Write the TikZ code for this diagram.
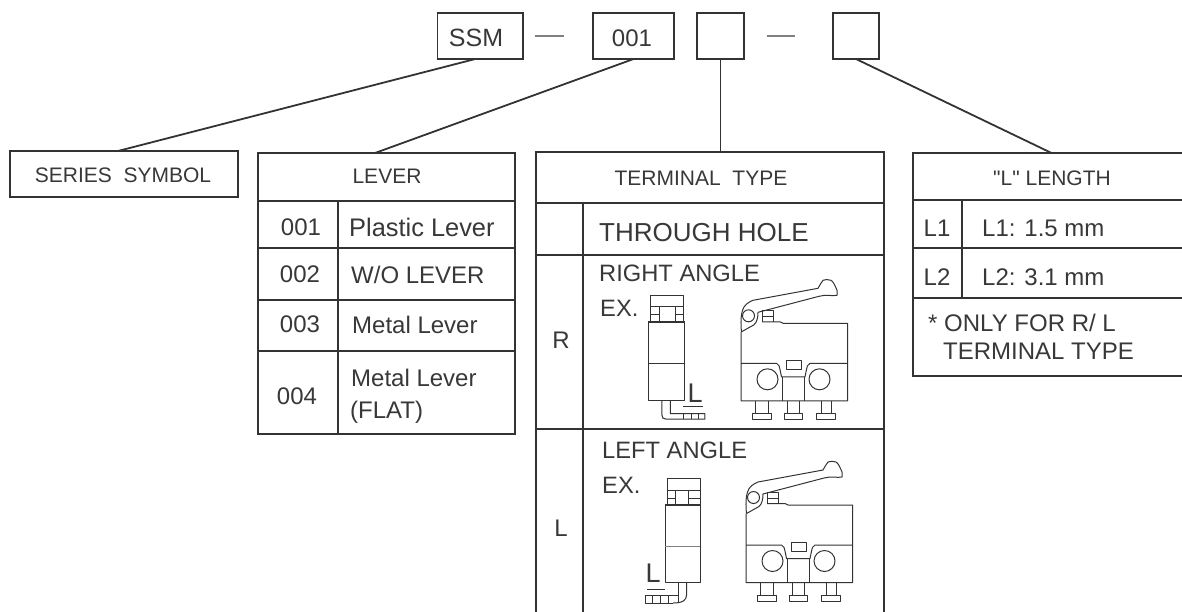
\documentclass[tikz,border=0pt]{standalone}
\usepackage{fontspec}
\setmainfont{Liberation Sans}
\newfontfamily\rawfont{Liberation Sans}
\definecolor{ink}{HTML}{333333}
\definecolor{inktext}{HTML}{383838}
\tikzset{
  boxcell/.style={draw=ink,line width=1.8pt,inner sep=0pt,outer sep=0pt,anchor=north west,minimum width=#1},
  lab/.style={font=\fontsize{#1}{#1}\selectfont,text=inktext,inner sep=0pt,text height=#1*0.716pt,text depth=0pt},
  labw/.style={lab=#1,anchor=west},
  link/.style={draw=ink,line width=1.8pt},
  dashmark/.style={draw=gray,line width=2pt},
  thin part/.style={draw=ink,line width=1pt,line join=round},
  side right/.pic={
    \draw[thin part] (0,0) rectangle (36,79);
    \draw[thin part] (0,41.5) -- (36,41.5);
    \draw[thin part] (2.5,-26.5) rectangle (35,0);
    \draw[thin part] (2.5,-15) -- (35,-15);
    \draw[thin part] (11,-15) -- (11,0) (27,-15) -- (27,0);
    \draw[thin part] (2.5,-7) -- (11,-7) (27,-7) -- (35,-7);
    \draw[line width=2pt,draw=ink] (0,0) -- (36,0);
    \draw[thin part] (13.5,79) -- (13.5,93) .. controls (13.5,96) and (15,97.5) .. (18,97.5) -- (56.5,97.5) -- (56.5,92) -- (22,92) -- (22,79);
    \draw[thin part] (35,85) -- (55,85);
    \draw[thin part] (35,92) -- (35,97.5) (43,92) -- (43,97.5) (50,92) -- (50,97.5);
  },
  side left/.pic={
    \draw[thin part] (0,0) rectangle (35,77);
    \draw[thin part,line width=1.6pt,draw=gray] (0,41.5) -- (35,41.5);
    \draw[thin part] (2,-26.5) rectangle (35,0);
    \draw[thin part] (2,-15) -- (35,-15);
    \draw[thin part] (10,-15) -- (10,0) (23,-15) -- (23,0);
    \draw[thin part] (2,-7) -- (10,-7) (23,-7) -- (35,-7);
    \draw[line width=2pt,draw=ink] (0,0) -- (35,0);
    \draw[thin part] (13,77) -- (13,90) -- (-20,90) -- (-20,98) -- (8,98);
    \draw[thin part] (21.5,77) -- (21.5,90) .. controls (21.5,95) and (18,98) .. (8,98);
    \draw[thin part] (-18,84) -- (0,84);
    \draw[thin part] (-13,90) -- (-13,98) (-5,90) -- (-5,98) (3,90) -- (3,98) (13,90) -- (13,98);
  },
  switch/.pic={
    % body, origin at the upper left corner of the case
    \draw[thin part] (0,8.5) -- (0,77.5) -- (106.5,77.5) -- (106.5,0) -- (42,0) -- (39,-1.5) -- (21,-1.5);
    \draw[thin part] (0,40) -- (35.5,40) .. controls (38,41) .. (40.5,53.5) -- (64,53.5) .. controls (66.5,41) .. (69,40) -- (106.5,40);
    \draw[thin part] (41.5,53.5) -- (41.5,77.5) (63.5,53.5) -- (63.5,77.5);
    \draw[thin part] (45,37.5) rectangle (60,46.5);
    \draw[thin part] (26.5,56) circle (10.5);
    \draw[thin part] (78.5,56) circle (10.5);
    % lever
    \draw[thin part] (0.5,8.5) -- (13,1.5) .. controls (16,-1) and (17,-6) .. (17,-11) -- (78,-27) .. controls (84,-29) and (92,-27) .. (96,-28) -- (96,-33) .. controls (94,-38) and (92,-42) .. (90,-43) .. controls (87,-44) and (84,-44) .. (82,-43) .. controls (80,-41) and (79,-38) .. (77,-35) -- (12,-23) .. controls (7,-21) and (3,-18) .. (1.5,-13) .. controls (0,-9) and (-0.5,0) .. (0.5,8.5);
    \draw[thin part] (7.5,-7.5) circle (6);
    \draw[thin part] (21,-1.5) -- (21,-13) -- (32,-13) -- (32,-1.5);
    \draw[thin part] (21,-7) -- (32,-7);
    % terminals
    \foreach \xa/\xb/\fa/\fb in {14/27/11.5/30,46.5/58/43/61.5,80.5/90.5/75.5/94}{
      \draw[thin part] (\xa,77.5) -- (\xa,90) (\xb,77.5) -- (\xb,90);
      \draw[thin part] (\fa,90) rectangle (\fb,96);
    };
  }
}
\begin{document}
\begin{tikzpicture}[x=1pt,y=-1pt]
\useasboundingbox (0,0) rectangle (1182,611);
% code boxes
\node[boxcell=85.5pt,minimum height=46pt] (ssm) at (437.5,13) {};
\node[boxcell=81pt,minimum height=46pt] (code) at (593,13) {};
\node[boxcell=47pt,minimum height=46pt] (termcode) at (697,13) {};
\node[boxcell=46pt,minimum height=46pt] (lencode) at (833,13) {};
\node[lab=25] (ssmt) at (476,38) {SSM};
\node[lab=24] (codet) at (632,38) {001};
\draw[dashmark] ([xshift=12pt]ssm.east) -- ([xshift=41pt]ssm.east);
\draw[dashmark] ([xshift=23pt]termcode.east) -- ([xshift=51pt]termcode.east);
% series
\node[boxcell=228pt,minimum height=46pt] (series) at (10,151) {};
\node[lab=21] (seriest) at (123,175) {SERIES\ \ SYMBOL};
% lever table
\node[boxcell=257pt,minimum height=48pt] (lever) at (258,153) {};
\node[boxcell=80pt,minimum height=47pt] (la) at (258,201) {};
\node[boxcell=177pt,minimum height=47pt] (lb) at (338,201) {};
\node[boxcell=80pt,minimum height=52pt] (lc) at (258,248) {};
\node[boxcell=177pt,minimum height=52pt] (ld) at (338,248) {};
\node[boxcell=80pt,minimum height=51pt] (le) at (258,300) {};
\node[boxcell=177pt,minimum height=51pt] (lf) at (338,300) {};
\node[boxcell=80pt,minimum height=83pt] (lg) at (258,351) {};
\node[boxcell=177pt,minimum height=83pt] (lh) at (338,351) {};
\node[lab=21] (levert) at (387,176) {LEVER};
\node[lab=24] (l1) at (301,227) {001};
\node[lab=24] (l2) at (300,274) {002};
\node[lab=24] (l3) at (300,324) {003};
\node[lab=24] (l4) at (297,396) {004};
\node[labw=25.4] (l1t) at (349,227) {Plastic Lever};
\node[labw=24] (l2t) at (351,275) {W/O LEVER};
\node[labw=24] (l3t) at (352,325) {Metal Lever};
\node[labw=24] (l4t) at (351,378) {Metal Lever};
\node[labw=24] (l5t) at (350,410) {(FLAT)};
% terminal table
\node[boxcell=348pt,minimum height=51pt] (term) at (536,152) {};
\node[boxcell=47pt,minimum height=52pt] (ta) at (536,203) {};
\node[boxcell=301pt,minimum height=52pt] (tb) at (583,203) {};
\node[boxcell=47pt,minimum height=174pt] (tc) at (536,255) {};
\node[boxcell=301pt,minimum height=174pt] (td) at (583,255) {};
\node[boxcell=47pt,minimum height=200pt] (te) at (536,429) {};
\node[boxcell=301pt,minimum height=200pt] (tf) at (583,429) {};
\node[lab=21] (termt) at (701,178) {TERMINAL\ \ TYPE};
\node[labw=26] (t1) at (599,232) {THROUGH HOLE};
\node[labw=23.7] (t2) at (599,273) {RIGHT ANGLE};
\node[labw=23.7] (t3) at (602,450) {LEFT ANGLE};
\node[labw=23.7] (t4) at (600,308) {EX.};
\node[labw=23.7] (t5) at (602,485) {EX.};
\node[lab=24] (tr) at (561,340) {R};
\node[lab=24] (tl) at (561,528) {L};
\node[lab=27] (dim1) at (695,393) {L};
\node[lab=27] (dim2) at (653,573) {L};
% drawings
\pic at (648.3,321.7) {side right};
\pic at (665,505) {side left};
\pic at (741,323.3) {switch};
\pic at (746,505) {switch};
% length table
\node[boxcell=277pt,minimum height=47pt] (len) at (913,153) {};
\node[boxcell=49pt,minimum height=48pt] (na) at (913,200) {};
\node[boxcell=228pt,minimum height=48pt] (nb) at (962,200) {};
\node[boxcell=49pt,minimum height=50pt] (nc) at (913,248) {};
\node[boxcell=228pt,minimum height=50pt] (nd) at (962,248) {};
\node[boxcell=277pt,minimum height=78pt] (ne) at (913,298) {};
\node[lab=21] (lent) at (1052,178) {{\rawfont"L"} LENGTH};
\node[lab=24] (n1) at (937,228) {L1};
\node[lab=24] (n2) at (937,277) {L2};
\node[labw=24] (n1t) at (982,228) {L1: 1.5 mm};
\node[labw=24] (n2t) at (982,277) {L2: 3.1 mm};
\node[labw=24] (n3) at (928,323) {* ONLY FOR R/ L};
\node[labw=24] (n4) at (943,351) {TERMINAL TYPE};
% connectors
\draw[link] ([xshift=-5pt]ssm.south) -- ([xshift=-6pt]series.north);
\draw[link] (code.south) -- ([xshift=-11.5pt]lever.north);
\draw[link] (termcode.south) -- (termcode.south |- term.north);
\draw[link] (lencode.south) -- (len.north);
\end{tikzpicture}
\end{document}
